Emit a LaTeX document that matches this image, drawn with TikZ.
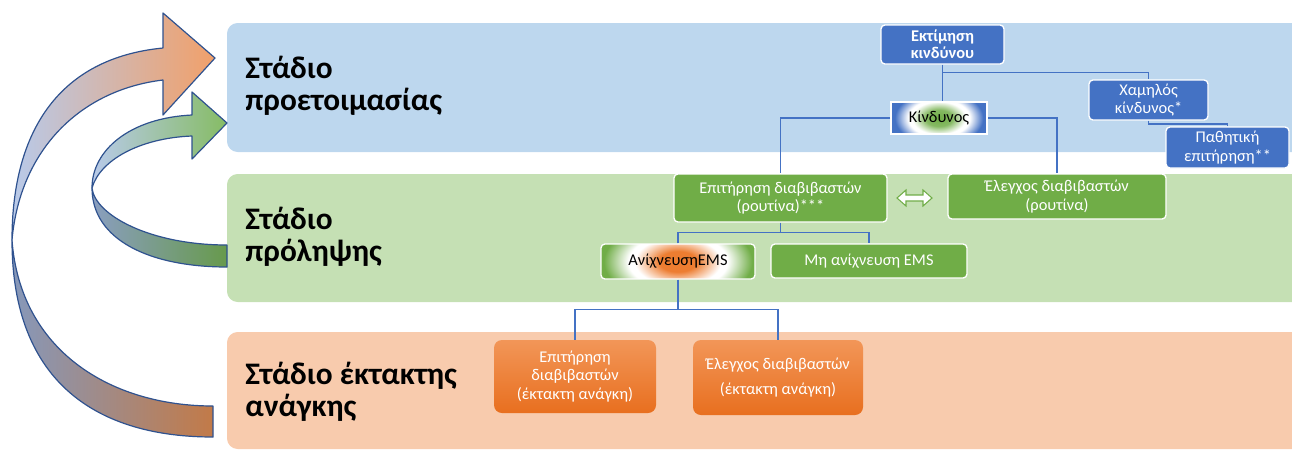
\documentclass[tikz,border=0pt]{standalone}
\usepackage{fontspec}
\setmainfont{Carlito}
\usetikzlibrary{calc}
\definecolor{bandblue}{HTML}{BDD7EE}
\definecolor{bandgreen}{HTML}{C5E0B4}
\definecolor{bandorange}{HTML}{F8CBAD}
\definecolor{nblue}{HTML}{4472C4}
\definecolor{ngreen}{HTML}{70AD47}
\definecolor{norange}{HTML}{ED7D31}
\definecolor{norangetop}{HTML}{F29658}
\definecolor{norangebot}{HTML}{E86F1F}
\definecolor{arrowline}{HTML}{2F528F}
\definecolor{frontL}{HTML}{B8CAEA}
\definecolor{bigfrontR}{HTML}{F1A06A}
\definecolor{bigbackL}{HTML}{8698BA}
\definecolor{bigbackR}{HTML}{C27A48}
\definecolor{grfrontR}{HTML}{86BC64}
\definecolor{grbackL}{HTML}{8A9EC0}
\definecolor{grbackR}{HTML}{679A4C}
\pgfdeclareradialshading{kinshade}{\pgfpoint{0bp}{0bp}}{color(0bp)=(ngreen); color(7bp)=(ngreen!85!white); color(14bp)=(white); color(16bp)=(white); color(23bp)=(nblue); color(50bp)=(nblue)}
\pgfdeclareradialshading{emsshade}{\pgfpoint{0bp}{0bp}}{color(0bp)=(norange); color(6bp)=(norange); color(14bp)=(white); color(16bp)=(white); color(24bp)=(ngreen); color(50bp)=(ngreen)}
\tikzset{
  sz/.style 2 args={minimum width=#1*0.75pt, minimum height=#2*0.75pt},
  basebox/.style={inner sep=0pt, align=center, font=\fontsize{12.3}{13.6}\selectfont},
  bluebox/.style={basebox, fill=nblue, draw=white, line width=1pt, rounded corners=3pt, text=white},
  greenbox/.style={basebox, fill=ngreen, draw=white, line width=1pt, rounded corners=3pt, text=white},
  kinbox/.style={basebox, fill=nblue, draw=white, line width=1.5pt, text=black,
    path picture={\shade[shading=kinshade] (path picture bounding box.center) ellipse [x radius=34pt, y radius=22pt];}},
  emsbox/.style={basebox, fill=ngreen, draw=white, line width=1pt, rounded corners=3pt, text=black,
    path picture={\shade[shading=emsshade] (path picture bounding box.center) ellipse [x radius=58pt, y radius=32pt];}},
  orangebox/.style={basebox, top color=norangetop, bottom color=norangebot, draw=none, rounded corners=6pt, text=white, font=\fontsize{12.3}{13.6}\selectfont},
  link/.style={draw=nblue, line width=1.1pt},
  heading/.style={anchor=base west, align=left, font=\fontsize{23.5}{24}\selectfont\bfseries, inner sep=0pt},
  arrowpart/.style={draw=arrowline, line width=0.9pt, line join=round},
}
\begin{document}
\begin{tikzpicture}[x=0.75pt, y=-0.75pt]
\path[use as bounding box] (0,0) rectangle (1292,450);
\clip (0,0) rectangle (1292,450);
% stage bands
\fill[bandblue, rounded corners=8pt] (227,23) rectangle (1320,152);
\fill[bandgreen, rounded corners=8pt] (227,174) rectangle (1320,302);
\fill[bandorange, rounded corners=8pt] (227,332) rectangle (1320,449);
% headings (anchor = baseline of the last line)
\node[heading] (h1) at (245,110) {Στάδιο\\προετοιμασίας};
\node[heading] (h2) at (245,261.5) {Στάδιο\\πρόληψης};
\node[heading] (h3) at (245,416.5) {Στάδιο έκτακτης\\ανάγκης};
% big curved arrow
\path[arrowpart, left color=bigbackL, right color=bigbackR]
  (12,240) .. controls (12,385) and (100,437) .. (213,437) -- (213,406)
  .. controls (110,406) and (20,350) .. (12,240) -- cycle;
\path[arrowpart, left color=frontL, right color=bigfrontR]
  (12,240) .. controls (12,130) and (60,58) .. (163,48) -- (163,13) -- (215,58)
  -- (163,115) -- (163,80) .. controls (80,90) and (20,150) .. (12,240) -- cycle;
% small curved arrow
\path[arrowpart, left color=grbackL, right color=grbackR]
  (92,188) .. controls (92,240) and (150,267) .. (227,267) -- (227,245)
  .. controls (150,245) and (95,215) .. (92,188) -- cycle;
\path[arrowpart, left color=frontL, right color=grfrontR]
  (92,188) .. controls (92,150) and (130,118) .. (192,115) -- (192,92) -- (227,123)
  -- (192,159) -- (192,136) .. controls (140,138) and (100,160) .. (92,188) -- cycle;
% nodes
\node[bluebox, sz={123}{39}, font=\fontsize{12.3}{12.5}\selectfont\bfseries] (ekt) at (942.5,44.5) {Εκτίμηση\\κινδύνου};
\node[kinbox, sz={96}{32}] (kin) at (939,118) {Κίνδυνος};
\node[bluebox, sz={119}{40}] (cham) at (1148.5,100) {Χαμηλός\\κίνδυνος*};
\node[bluebox, sz={123}{41}] (pathn) at (1227.5,147.5) {Παθητική\\επιτήρηση**};
\node[greenbox, sz={213}{48}] (epr) at (780.5,198) {Επιτήρηση διαβιβαστών\\(ρουτίνα)***};
\node[greenbox, sz={218}{45}] (elr) at (1057,196.5) {Έλεγχος διαβιβαστών\\(ρουτίνα)};
\node[emsbox, sz={154}{35}] (anix) at (678,261.5) {ΑνίχνευσηEMS};
\node[greenbox, sz={196}{34}] (mh) at (869,261) {Μη ανίχνευση EMS};
\node[orangebox, sz={162}{73}] (o1) at (575,376.5) {Επιτήρηση\\διαβιβαστών\\(έκτακτη ανάγκη)};
\node[orangebox, sz={170}{75}] (o2) at (778,377.5) {Έλεγχος διαβιβαστών\\[5pt](έκτακτη ανάγκη)};
% connectors
\draw[link] (ekt.south) -- (ekt.south |- kin.north);
\draw[link] (ekt.south) ++(0,8) -| (cham.north);
\draw[link] (kin.west) -| (epr.north);
\draw[link] (kin.east) -| (elr.north);
\draw[link] (cham.south) -- ++(0,3.5) -| (pathn.north);
\draw[link] (epr.south) -- ++(0,10) coordinate (j1);
\draw[link] (anix.north) |- (j1) -| (mh.north);
\draw[link] (anix.south) -- ++(0,30) coordinate (j2);
\draw[link] (o1.north) |- (j2) -| (o2.north);
% double arrow between routine boxes
\draw[fill=white, draw=ngreen, line width=0.8pt, line join=miter]
  (897,198) -- (906,190) -- (906,195) -- (923,195) -- (923,190) -- (932,198)
  -- (923,206) -- (923,201) -- (906,201) -- (906,206) -- cycle;
\end{tikzpicture}
\end{document}
